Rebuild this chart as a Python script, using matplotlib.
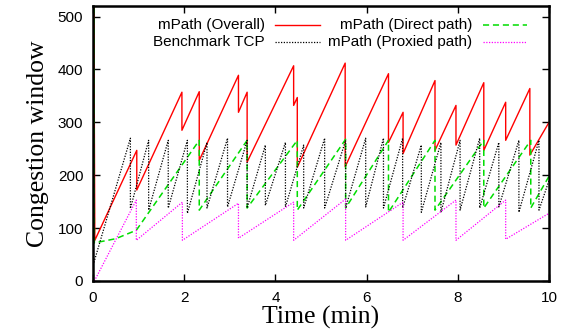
import numpy as np
import matplotlib.pyplot as plt
from matplotlib.lines import Line2D

plt.rcParams["font.family"] = "Liberation Sans"

# mPath (Overall): congestion window breakpoints (min, packets)
overall_t = [0.0, 0.015, 0.04, 0.96, 0.96, 1.95, 1.95, 2.33, 2.33, 3.19, 3.19,
             3.38, 3.38, 4.40, 4.40, 4.48, 4.48, 5.53, 5.53, 6.48, 6.48, 6.80,
             6.80, 7.50, 7.50, 7.96, 7.96, 8.57, 8.57, 9.05, 9.05, 9.58, 9.58, 10.0]
overall_w = [0, 600, 77, 247, 172, 357, 285, 358, 228, 389, 319,
             357, 225, 407, 332, 347, 215, 412, 216, 392, 262, 319,
             241, 379, 247, 332, 257, 375, 247, 338, 266, 364, 238, 300]

# mPath (Direct path)
direct_t = [0.0, 0.015, 0.03, 0.50, 0.95, 2.33, 2.33, 3.38, 3.38, 4.48, 4.48,
            5.54, 5.54, 6.48, 6.48, 7.50, 7.50, 8.57, 8.57, 9.60, 9.60, 10.0]
direct_w = [0, 560, 72, 80, 96, 266, 134, 266, 138, 266, 134,
            268, 138, 266, 130, 266, 134, 266, 138, 266, 138, 198]

# mPath (Proxied path)
proxied_t = [0.03, 0.95, 0.95, 1.96, 1.96, 3.19, 3.19, 4.40, 4.40, 5.54, 5.54,
             6.80, 6.80, 7.96, 7.96, 9.05, 9.05, 10.0]
proxied_w = [0, 153, 77, 149, 77, 147, 81, 149, 77, 155, 77,
             149, 77, 153, 77, 153, 79, 128]

# Benchmark TCP: loss times, window before and after each loss
tcp_loss_t = [0.82, 1.22, 1.65, 2.07, 2.50, 2.95, 3.38, 3.78, 4.22, 4.62, 5.08,
              5.54, 5.98, 6.37, 6.79, 7.20, 7.63, 8.05, 8.48, 8.90, 9.34, 9.78]
tcp_peak = [270, 266, 266, 266, 262, 270, 266, 257, 262, 257, 270,
            266, 270, 270, 270, 257, 262, 266, 270, 262, 266, 266]
tcp_floor = [137, 134, 138, 128, 138, 140, 138, 143, 140, 138, 138,
             138, 140, 138, 138, 130, 130, 134, 138, 140, 130, 134]
tcp_start = (0.02, 35)
tcp_end = (10.0, 190)

tcp_t = np.concatenate([[tcp_start[0]], np.repeat(tcp_loss_t, 2), [tcp_end[0]]])
tcp_w = np.concatenate([[tcp_start[1]],
                        np.column_stack([tcp_peak, tcp_floor]).ravel(),
                        [tcp_end[1]]])

fig = plt.figure(figsize=(5.67, 3.35), dpi=100)
ax = fig.add_axes([93/567, 1 - 281/335, 456/567, 275/335])

red, green, magenta = "#ff0000", "#00dd00", "#ff00ff"
ax.plot(overall_t, overall_w, color=red, lw=1.0)
ax.plot(direct_t, direct_w, color=green, lw=1.1, dashes=(4, 2.5))
ax.plot(tcp_t, tcp_w, color="black", lw=0.9, dashes=(1, 1.2))
ax.plot(proxied_t, proxied_w, color=magenta, lw=0.9, dashes=(1, 1.2))

ax.set_xlim(0, 10)
ax.set_ylim(0, 520)
ax.set_xticks([0, 2, 4, 6, 8, 10])
ax.set_yticks([0, 100, 200, 300, 400, 500])
ax.tick_params(direction="in", length=5, width=1, labelsize=11, pad=7,
               top=True, right=True)
for s in ax.spines.values():
    s.set_linewidth(1.8)

serif = "Liberation Serif"
ax.set_xlabel("Time (min)", family=serif, size=18.5, labelpad=1)
ax.set_ylabel("Congestion window", family=serif, size=18.5, labelpad=6)

# gnuplot-style key: right-aligned labels followed by line samples
key = [("mPath (Overall)", dict(color=red, lw=1.0), 265, 275, 320, 25),
       ("mPath (Direct path)", dict(color=green, lw=1.1, dashes=(4, 2.5)), 472, 483, 527, 25),
       ("Benchmark TCP", dict(color="black", lw=0.9, dashes=(1, 1.2)), 265, 275, 320, 42),
       ("mPath (Proxied path)", dict(color=magenta, lw=0.9, dashes=(1, 1.2)), 472, 483, 527, 42)]
W, H = 567, 335
for label, style, tx, x0, x1, y in key:
    fig.text(tx / W, 1 - y / H, label, ha="right", va="center", size=11)
    fig.add_artist(Line2D([x0 / W, x1 / W], [1 - y / H, 1 - y / H],
                          transform=fig.transFigure, **style))

fig.savefig("out.png", dpi=100)
